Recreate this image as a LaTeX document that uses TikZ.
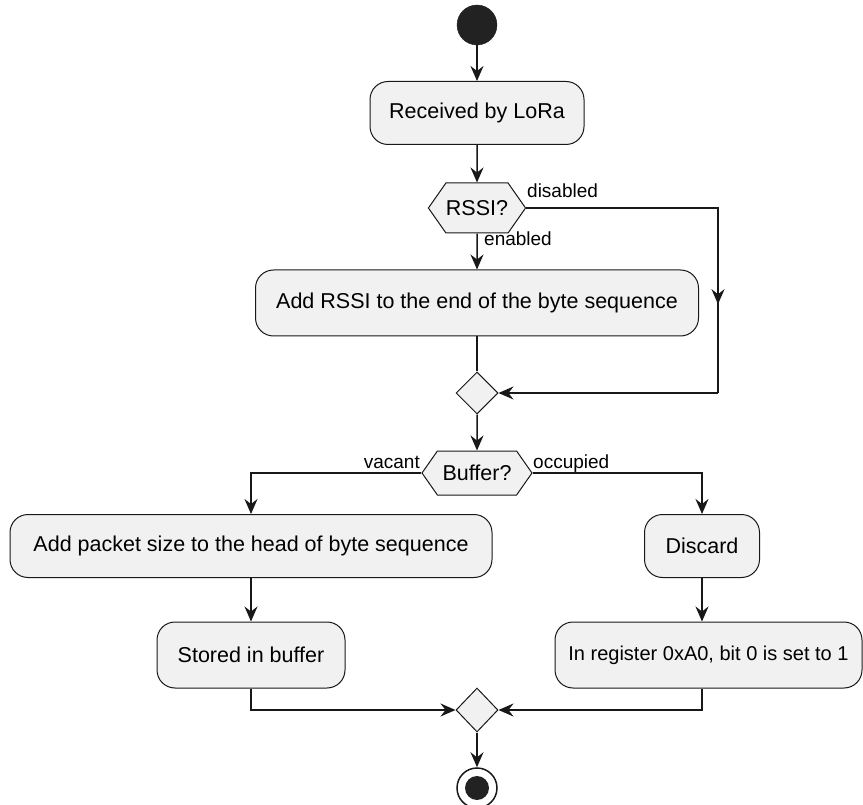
\documentclass[tikz,border=0pt]{standalone}
\usepackage{fontspec}
\setmainfont{Liberation Sans}
\usetikzlibrary{shapes.geometric,shapes.symbols,arrows.meta}

\definecolor{boxfill}{HTML}{F1F1F1}
\definecolor{ink}{HTML}{181818}
\definecolor{dot}{HTML}{222222}

\tikzset{
  action/.style={draw=ink, fill=boxfill, line width=1pt, rounded corners=18pt,
    inner sep=0pt, font=\fontsize{21.5}{25}\selectfont, text=black},
  choice/.style={draw=ink, fill=boxfill, line width=1pt, shape=signal,
    signal to=west and east, signal pointer angle=110, inner sep=0pt,
    font=\fontsize{21.5}{25}\selectfont, text=black},
  merge/.style={draw=ink, fill=boxfill, line width=1pt, shape=diamond,
    inner sep=0pt, minimum width=42pt, minimum height=42pt},
  flow/.style={draw=ink, line width=1.5pt,
    -{Stealth[length=15pt,width=13pt,inset=5pt]}},
  wire/.style={draw=ink, line width=1.5pt},
  lbl/.style={font=\fontsize{19}{22}\selectfont, text=black, inner sep=0pt},
}

\begin{document}
\begin{tikzpicture}[x=1pt, y=-1pt]
  \useasboundingbox (0,0) rectangle (863,805);

  % start and end markers
  \node[circle, fill=dot, draw=dot, minimum size=40pt, inner sep=0pt] (start) at (477,25) {};
  \node[circle, draw=ink, line width=1.5pt, fill=white, minimum size=40pt, inner sep=0pt] (stop) at (477,788) {};
  \node[circle, fill=dot, minimum size=24pt, inner sep=0pt] (stopdot) at (477,788) {};

  % actions
  \node[action, minimum width=214pt, minimum height=63pt] (recv) at (477,113) {Received by LoRa};
  \node[choice, minimum width=97pt, minimum height=50pt] (rssi) at (477,208) {RSSI?};
  \node[action, minimum width=443pt, minimum height=66pt] (addrssi) at (477,303) {Add RSSI to the end of the byte sequence};
  \node[merge] (m1) at (477,393) {};
  \node[choice, minimum width=110pt, minimum height=44pt] (buf) at (477,473) {Buffer?};
  \node[action, minimum width=482pt, minimum height=63pt] (addpkt) at (251,546) {Add packet size to the head of byte sequence};
  \node[action, minimum width=115pt, minimum height=63pt] (discard) at (702,546) {Discard};
  \node[action, minimum width=188pt, minimum height=66pt] (stored) at (251,655) {Stored in buffer};
  \node[action, minimum width=307pt, minimum height=66pt, font=\fontsize{20}{24}\selectfont] (reg) at (708.5,655) {In register 0xA0, bit 0 is set to 1};
  \node[merge, minimum height=44pt] (m2) at (477,710) {};

  % bypass column on the right
  \coordinate (bypass) at (718,0);

  % connectors
  \draw[flow] (start) -- (recv);
  \draw[flow] (recv) -- (rssi);
  \draw[flow] (rssi) -- (addrssi);
  \draw[wire] (addrssi) -- (m1);
  \draw[wire] (rssi.east) -- (rssi.east -| bypass)
     -- coordinate[pos=0.52] (bypassmid) (m1.east -| bypass);
  \draw[flow] (rssi.east -| bypass) -- (bypassmid);
  \draw[flow] (m1.east -| bypass) -- (m1.east);
  \draw[flow] (m1) -- (buf);

  \draw[flow] (buf.west) -| (addpkt.north);
  \draw[flow] (buf.east) -| (discard.north);
  \draw[flow] (addpkt) -- (stored);
  \draw[flow] (discard.south) -- (discard.south |- reg.north);

  \draw[flow] (stored.south) |- (m2.west);
  \draw[flow] (discard.south |- reg.south) |- (m2.east);
  \draw[flow] (m2) -- (stop);

  % branch labels
  \node[lbl, anchor=base west] (ldis) at (527,198) {disabled};
  \node[lbl, anchor=base west] (len) at (484,246) {enabled};
  \node[lbl, anchor=base east] (lvac) at (420,468) {vacant};
  \node[lbl, anchor=base west] (locc) at (533,468) {occupied};
\end{tikzpicture}
\end{document}
